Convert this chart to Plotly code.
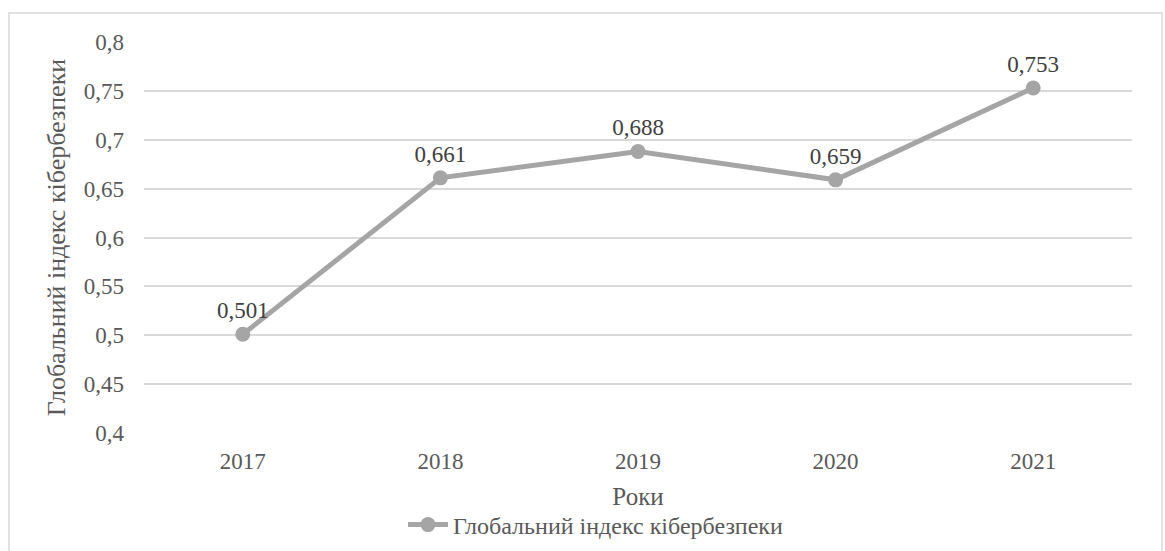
import plotly.graph_objects as go

years = ["2017", "2018", "2019", "2020", "2021"]
index_values = [0.501, 0.661, 0.688, 0.659, 0.753]
value_labels = ["0,501", "0,661", "0,688", "0,659", "0,753"]
y_ticks = [0.4, 0.45, 0.5, 0.55, 0.6, 0.65, 0.7, 0.75, 0.8]
y_tick_labels = ["0,4", "0,45", "0,5", "0,55", "0,6", "0,65", "0,7", "0,75", "0,8"]

FONT = "Liberation Serif"
W, H = 1165, 551
L, R, T, B = 144, 33, 42, 118
pw, ph = W - L - R, H - T - B

fig = go.Figure()
fig.add_trace(go.Scatter(
    x=years, y=index_values,
    mode="lines+markers+text",
    name="Глобальний індекс кібербезпеки",
    line=dict(color="#A5A5A5", width=5),
    marker=dict(color="#A5A5A5", size=15),
    text=value_labels,
    textposition="top center",
    textfont=dict(family=FONT, size=23, color="#404040"),
    cliponaxis=False,
))

# outer chart frame
def px_x(v):
    return (v - L) / pw

def px_y(v):
    return (H - B - v) / ph

fig.add_shape(type="rect", xref="paper", yref="paper",
              x0=px_x(9), x1=px_x(1162), y0=px_y(560), y1=px_y(13),
              line=dict(color="#D9D9D9", width=1.5), fillcolor="rgba(0,0,0,0)",
              layer="below")

fig.update_layout(
    width=W, height=H,
    margin=dict(l=L, r=R, t=T, b=B, autoexpand=False),
    paper_bgcolor="white", plot_bgcolor="white",
    font=dict(family=FONT, color="#595959"),
    showlegend=True,
    legend=dict(orientation="h", x=px_x(403), xanchor="left", y=px_y(525), yanchor="middle",
                font=dict(family=FONT, size=24, color="#595959"),
                itemwidth=40, bgcolor="rgba(0,0,0,0)"),
    xaxis=dict(
        type="category", range=[-0.5, 4.5], showgrid=False, showline=False, zeroline=False,
        ticks="", ticklabelstandoff=12, automargin=False,
        tickfont=dict(family=FONT, size=23, color="#595959"),
        title=dict(text="Роки", font=dict(family=FONT, size=25, color="#595959"), standoff=14),
    ),
    yaxis=dict(
        range=[0.4, 0.8], tickvals=y_ticks, ticktext=y_tick_labels,
        showgrid=True, gridcolor="#D9D9D9", gridwidth=1.5, automargin=False,
        showline=False, zeroline=False, ticks="", ticklabelstandoff=19,
        tickfont=dict(family=FONT, size=23, color="#595959"),
        title=dict(text="Глобальний індекс кібербезпеки",
                   font=dict(family=FONT, size=26, color="#595959"), standoff=10),
    ),
)

fig.write_html("out.html")
